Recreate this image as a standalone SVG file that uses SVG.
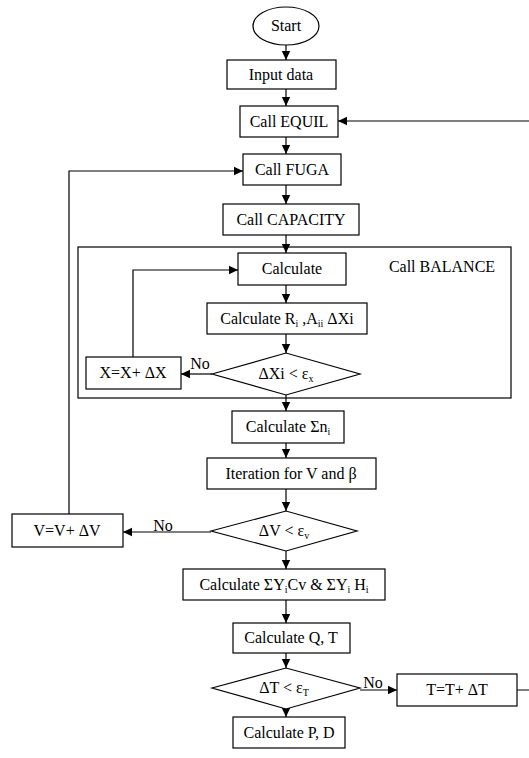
<svg xmlns="http://www.w3.org/2000/svg" width="529" height="758" viewBox="0 0 529 758" font-family="'Liberation Serif', 'Times New Roman', Times, serif">
<defs>
<marker id="ah" markerWidth="10" markerHeight="10" refX="9" refY="5" orient="auto" markerUnits="userSpaceOnUse">
<path d="M0,0.8 L9,5 L0,9.2 Z" fill="#000"/>
</marker>
<style>
.n{fill:#fff;stroke:#000;stroke-width:1.2}
.c{fill:none;stroke:#000;stroke-width:1.2}
.a{marker-end:url(#ah)}
.t{font-family:'Liberation Serif','Times New Roman',Times,serif;font-size:16px;fill:#000}
.m{text-anchor:middle}
.s{font-size:10px}
</style>
</defs>
<rect width="529" height="758" fill="#fff"/>
<g id="balance">
<rect class="n" x="78" y="247" width="433" height="151" fill="none" style="fill:none"/>
<text x="442" y="272" class="t m">Call BALANCE</text>
</g>
<g id="connectors">
<line class="c a" x1="286" y1="45" x2="286" y2="60"/>
<line class="c a" x1="286" y1="89" x2="286" y2="106"/>
<line class="c a" x1="286" y1="137" x2="286" y2="154"/>
<line class="c a" x1="286" y1="185" x2="286" y2="204"/>
<line class="c a" x1="286" y1="235" x2="286" y2="253"/>
<line class="c a" x1="286" y1="285" x2="286" y2="303"/>
<line class="c a" x1="286" y1="334" x2="286" y2="353"/>
<line class="c a" x1="286" y1="395" x2="286" y2="411"/>
<line class="c a" x1="212" y1="374" x2="181" y2="374"/>
<polyline class="c a" points="133,357 133,270 238,270"/>
<line class="c a" x1="286" y1="443" x2="286" y2="458"/>
<line class="c a" x1="286" y1="489" x2="286" y2="511"/>
<line class="c a" x1="211" y1="532" x2="123" y2="532"/>
<polyline class="c a" points="69,514 69,171 243,171"/>
<line class="c a" x1="286" y1="551" x2="286" y2="569"/>
<line class="c a" x1="286" y1="600" x2="286" y2="623"/>
<line class="c a" x1="286" y1="653" x2="286" y2="668"/>
<line class="c a" x1="286" y1="709" x2="286" y2="717"/>
<line class="c a" x1="360" y1="690" x2="397" y2="690"/>
<polyline class="c a" points="517,690 531,690 531,121 338,121"/>
<text x="200" y="369" class="t m">No</text>
<text x="163" y="531" class="t m">No</text>
<text x="373" y="688" class="t m">No</text>
</g>
<g id="start">
<ellipse class="n" cx="286" cy="26" rx="33" ry="19"/>
<text x="286" y="31" class="t m">Start</text>
</g>
<g id="input">
<rect class="n" x="227" y="60" width="109" height="29"/>
<text x="281" y="80" class="t m">Input data</text>
</g>
<g id="equil">
<rect class="n" x="240" y="106" width="98" height="31"/>
<text x="289" y="127" class="t m">Call EQUIL</text>
</g>
<g id="fuga">
<rect class="n" x="243" y="154" width="98" height="31"/>
<text x="292" y="175" class="t m">Call FUGA</text>
</g>
<g id="capacity">
<rect class="n" x="223" y="204" width="136" height="31"/>
<text x="291" y="225" class="t m">Call CAPACITY</text>
</g>
<g id="calculate">
<rect class="n" x="238" y="253" width="108" height="32"/>
<text x="292" y="274" class="t m">Calculate</text>
</g>
<g id="calcR">
<rect class="n" x="207" y="303" width="160" height="31"/>
<text x="287" y="324" class="t m">Calculate R<tspan class="s" dy="3">i</tspan><tspan dy="-3"> ,A</tspan><tspan class="s" dy="3">ii</tspan><tspan dy="-3"> ΔXi</tspan></text>
</g>
<g id="dx">
<polygon class="n" points="212,374 286,353 360,374 286,395"/>
<text x="286" y="379" class="t m">ΔXi &lt; ε<tspan class="s" dy="3">x</tspan></text>
</g>
<g id="xupd">
<rect class="n" x="86" y="357" width="95" height="32"/>
<text x="133" y="378" class="t m">X=X+ ΔX</text>
</g>
<g id="sumn">
<rect class="n" x="232" y="411" width="112" height="32"/>
<text x="288" y="432" class="t m">Calculate Σn<tspan class="s" dy="3">i</tspan></text>
</g>
<g id="iter">
<rect class="n" x="207" y="458" width="169" height="31"/>
<text x="291" y="479" class="t m">Iteration for V and β</text>
</g>
<g id="dv">
<polygon class="n" points="211,531 286,511 357,531 286,551"/>
<text x="284" y="536" class="t m">ΔV &lt; ε<tspan class="s" dy="3">v</tspan></text>
</g>
<g id="vupd">
<rect class="n" x="12" y="514" width="111" height="33"/>
<text x="67" y="536" class="t m">V=V+ ΔV</text>
</g>
<g id="sumy">
<rect class="n" x="183" y="569" width="202" height="31"/>
<text x="284" y="590" class="t m">Calculate ΣY<tspan class="s" dy="3">i</tspan><tspan dy="-3">Cv &amp; ΣY</tspan><tspan class="s" dy="3">i</tspan><tspan dy="-3"> H</tspan><tspan class="s" dy="3">i</tspan></text>
</g>
<g id="qt">
<rect class="n" x="233" y="623" width="117" height="30"/>
<text x="291" y="643" class="t m">Calculate Q, T</text>
</g>
<g id="dt">
<polygon class="n" points="212,688 286,668 360,688 286,709"/>
<text x="284" y="693" class="t m">ΔT &lt; ε<tspan class="s" dy="3">T</tspan></text>
</g>
<g id="tupd">
<rect class="n" x="397" y="674" width="120" height="32"/>
<text x="457" y="695" class="t m">T=T+ ΔT</text>
</g>
<g id="pd">
<rect class="n" x="233" y="717" width="112" height="31"/>
<text x="289" y="738" class="t m">Calculate P, D</text>
</g>
</svg>
